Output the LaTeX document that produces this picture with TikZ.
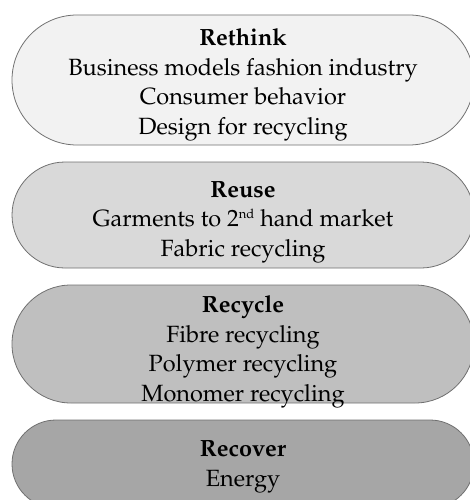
\documentclass[tikz,border=0pt]{standalone}
\usepackage[T1]{fontenc}
\usepackage{mathpazo}
\usetikzlibrary{shapes.misc}
\definecolor{edge}{HTML}{707070}
\definecolor{fillA}{HTML}{F2F2F2}
\definecolor{fillB}{HTML}{D9D9D9}
\definecolor{fillC}{HTML}{BFBFBF}
\definecolor{fillD}{HTML}{A6A6A6}
\tikzset{
  pill/.style={rounded rectangle, draw=edge, line width=0.8pt, minimum width=462pt,
    inner sep=0pt},
  label text/.style={align=center, inner sep=0pt, text=black,
    font=\fontsize{23.5}{29.5}\selectfont},
}
\newcommand{\supsmall}[1]{\raisebox{0.75ex}{\fontsize{13}{13}\selectfont #1}}
\begin{document}
\begin{tikzpicture}[x=1pt,y=1pt]
\useasboundingbox (0,0) rectangle (470,-500);
\clip (0,0) rectangle (470,-500);
\node[pill, fill=fillA, minimum height=130pt] (rethink) at (243,-80) {};
\node[pill, fill=fillB, minimum height=106pt] (reuse) at (243,-215) {};
\node[pill, fill=fillC, minimum height=118pt] (recycle) at (243,-344) {};
\node[pill, fill=fillD, minimum height=88pt] (recover) at (243,-464) {};
\node[label text] (rethinkT) at (243,-85)
  {\textbf{Rethink}\\Business models fashion industry\\Consumer behavior\\Design for recycling};
\node[label text] (reuseT) at (243,-222)
  {\textbf{Reuse}\\Garments to 2\supsmall{nd} hand market\\Fabric recycling};
\node[label text] (recycleT) at (243,-352)
  {\textbf{Recycle}\\Fibre recycling\\Polymer recycling\\Monomer recycling};
\node[label text] (recoverT) at (243,-467)
  {\textbf{Recover}\\Energy};
\end{tikzpicture}
\end{document}
